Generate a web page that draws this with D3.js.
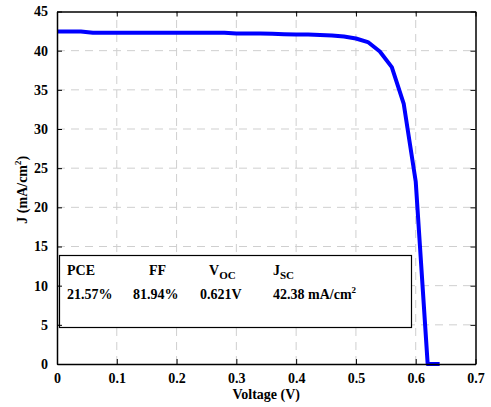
<!DOCTYPE html>
<html>
<head>
<meta charset="utf-8">
<script src="https://cdn.jsdelivr.net/npm/d3@7"></script>
<style>
  html, body { margin: 0; padding: 0; background: #fff; }
  svg text { font-family: "Liberation Serif", "Times New Roman", serif; font-weight: bold; }
</style>
</head>
<body>
<svg id="chart" width="491" height="407"></svg>
<script>
// J–V curve of the solar cell (voltage in V, current density in mA/cm²)
const voltage = [0, 0.02, 0.04, 0.06, 0.08, 0.10, 0.12, 0.14, 0.16, 0.18, 0.20, 0.22, 0.24, 0.26, 0.28,
                 0.30, 0.32, 0.34, 0.36, 0.38, 0.40, 0.42, 0.44, 0.46, 0.48, 0.50, 0.52, 0.54, 0.56,
                 0.58, 0.60, 0.62, 0.64];
const current = [42.45, 42.45, 42.45, 42.3, 42.3, 42.3, 42.3, 42.3, 42.3, 42.3, 42.3, 42.3, 42.3, 42.3, 42.3,
                 42.2, 42.2, 42.2, 42.15, 42.1, 42.05, 42.05, 42.0, 41.95, 41.8, 41.55, 41.1, 39.9, 37.9,
                 33.2, 23.3, 0, 0];
const xTicks = [0, 0.1, 0.2, 0.3, 0.4, 0.5, 0.6, 0.7];
const yTicks = [0, 5, 10, 15, 20, 25, 30, 35, 40, 45];

// Device parameters shown in the inset box
const paramNames = ["PCE", "FF", "V", "J"];
const paramSubs = ["", "", "OC", "SC"];
const paramValues = ["21.57%", "81.94%", "0.621V", "42.38 mA/cm"];

const svg = d3.select("#chart");
const m = { left: 57, right: 475.5, top: 11.5, bottom: 364 };

const x = d3.scaleLinear().domain([0, 0.7]).range([m.left, m.right]);
const y = d3.scaleLinear().domain([0, 45]).range([m.bottom, m.top]);

// Dashed grid
const grid = svg.append("g").attr("stroke", "#cfcfcf").attr("stroke-width", 1).attr("stroke-dasharray", "8,6");
grid.selectAll(".gx").data(xTicks.slice(1, -1)).join("line")
  .attr("x1", d => x(d)).attr("x2", d => x(d)).attr("y1", m.bottom).attr("y2", m.top);
grid.selectAll(".gy").data(yTicks.slice(1, -1)).join("line")
  .attr("y1", d => y(d)).attr("y2", d => y(d)).attr("x1", m.left).attr("x2", m.right);

// Parameter box
const box = svg.append("g");
box.append("rect").attr("x", 59.5).attr("y", 255.5).attr("width", 352).attr("height", 72)
  .attr("fill", "#fff").attr("stroke", "#000").attr("stroke-width", 1.2);
const colX = [67, 149, 209, 273];
const valX = [67, 133, 200, 273];
paramNames.forEach((n, i) => {
  const t = box.append("text").attr("x", colX[i]).attr("y", 275).attr("font-size", 14).attr("fill", "#000");
  t.append("tspan").text(n);
  if (paramSubs[i]) t.append("tspan").attr("dy", 4).attr("font-size", 11).text(paramSubs[i]);
});
paramValues.forEach((v, i) => {
  const t = box.append("text").attr("x", valX[i]).attr("y", 299).attr("font-size", 14).attr("fill", "#000");
  t.append("tspan").text(v);
  if (i === 3) t.append("tspan").attr("dy", -6).attr("font-size", 9).text("2");
});

// Curve
const line = d3.line().x((d, i) => x(voltage[i])).y(d => y(d));
svg.append("path").datum(current).attr("d", line)
  .attr("fill", "none").attr("stroke", "#0000ff").attr("stroke-width", 4).attr("stroke-linejoin", "round");

// Axes with inward ticks
const tickLen = 5;
const fmtX = d => d === 0 ? "0" : d3.format(".1f")(d);
const xb = svg.append("g").attr("transform", `translate(0,${m.bottom})`)
  .call(d3.axisBottom(x).tickValues(xTicks).tickFormat(fmtX).tickSizeInner(-tickLen).tickSizeOuter(0).tickPadding(9));
const xt = svg.append("g").attr("transform", `translate(0,${m.top})`)
  .call(d3.axisTop(x).tickValues(xTicks).tickFormat("").tickSizeInner(-tickLen).tickSizeOuter(0));
const yl = svg.append("g").attr("transform", `translate(${m.left},0)`)
  .call(d3.axisLeft(y).tickValues(yTicks).tickSizeInner(-tickLen).tickSizeOuter(0).tickPadding(9));
const yr = svg.append("g").attr("transform", `translate(${m.right},0)`)
  .call(d3.axisRight(y).tickValues(yTicks).tickFormat("").tickSizeInner(-tickLen).tickSizeOuter(0));

[xb, xt, yl, yr].forEach(g => {
  g.select(".domain").attr("stroke", "#000").attr("stroke-width", 1.5);
  g.selectAll(".tick line").attr("stroke", "#000").attr("stroke-width", 1);
  g.selectAll(".tick text").attr("font-size", 14).attr("fill", "#000")
    .attr("font-family", "Liberation Serif, Times New Roman, serif").attr("font-weight", "bold");
});

// Axis titles
svg.append("text").attr("x", (m.left + m.right) / 2).attr("y", 399).attr("text-anchor", "middle")
  .attr("font-size", 14).text("Voltage (V)");
const yt = svg.append("text").attr("transform", `translate(27,${(m.top + m.bottom) / 2 + 2}) rotate(-90)`)
  .attr("text-anchor", "middle").attr("font-size", 14);
yt.append("tspan").text("J (mA/cm");
yt.append("tspan").attr("dy", -6).attr("font-size", 9).text("2");
yt.append("tspan").attr("dy", 6).text(")");
</script>
</body>
</html>
